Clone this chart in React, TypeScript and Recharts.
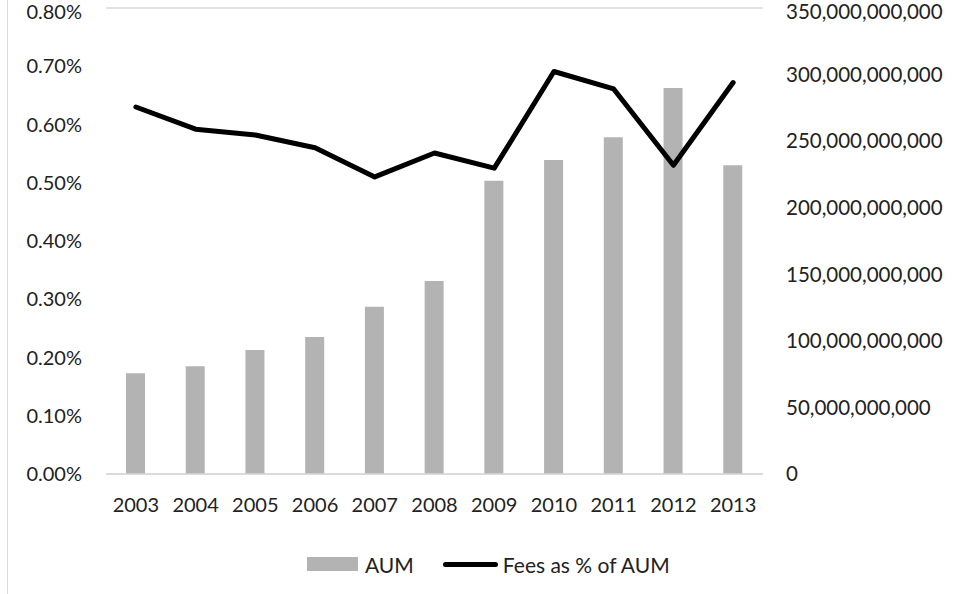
import {
    ComposedChart,
    Bar,
    Line,
    CartesianGrid,
    XAxis,
    YAxis,
    Legend
} from "recharts";

const years = ["2003", "2004", "2005", "2006", "2007", "2008", "2009", "2010", "2011", "2012", "2013"];
const aum = [75.6e9, 80.9e9, 93.1e9, 102.9e9, 125.7e9, 145.0e9, 220.3e9, 235.8e9, 252.9e9, 289.9e9, 231.9e9];
const feesPct = [0.630, 0.592, 0.582, 0.560, 0.510, 0.551, 0.525, 0.691, 0.661, 0.530, 0.672];
const leftTicks = [0, 0.1, 0.2, 0.3, 0.4, 0.5, 0.6, 0.7, 0.8];
const rightTicks = [0, 50e9, 100e9, 150e9, 200e9, 250e9, 300e9, 350e9];

const data = years.map((year, i) => ({ year, aum: aum[i], fees: feesPct[i] }));

const FONT = "Lato, 'Open Sans', sans-serif";
const TEXT = "#222";

function LegendContent() {
    return (
        <div
            style={{
                display: "flex",
                alignItems: "center",
                paddingLeft: 307,
                height: 60,
                fontFamily: FONT,
                fontSize: 21,
                color: TEXT
            }}
        >
            <span style={{ width: 51, height: 14, background: "#b3b3b3", display: "inline-block" }} />
            <span style={{ marginLeft: 7 }}>AUM</span>
            <span
                style={{
                    width: 55,
                    height: 5,
                    background: "#000",
                    borderRadius: 3,
                    display: "inline-block",
                    marginLeft: 29
                }}
            />
            <span style={{ marginLeft: 5 }}>Fees as % of AUM</span>
        </div>
    );
}

export default function App() {
    return (
        <div
            style={{
                position: "fixed",
                left: 0,
                top: 0,
                width: 955,
                height: 594,
                background: "#fff"
            }}
        >
            <div
                style={{
                    position: "absolute",
                    left: 7,
                    top: 0,
                    width: 0,
                    height: 594,
                    borderLeft: "1.5px solid #d9d9d9"
                }}
            />
            <ComposedChart
                width={955}
                height={594}
                data={data}
                margin={{ top: 8, right: 0, left: 0, bottom: 0 }}
                barCategoryGap={0}
            >
                <CartesianGrid vertical={false} stroke="#d9d9d9" strokeWidth={1.5} />
                <XAxis
                    dataKey="year"
                    height={60}
                    tickSize={0}
                    tickMargin={24}
                    axisLine={{ stroke: "#d9d9d9", strokeWidth: 1.5 }}
                    tick={{ fill: TEXT, fontSize: 20, fontFamily: FONT }}
                    interval={0}
                />
                <YAxis
                    yAxisId="left"
                    orientation="left"
                    width={106}
                    domain={[0, 0.8]}
                    ticks={leftTicks}
                    tickFormatter={(v: number) => `${v.toFixed(2)}%`}
                    tickSize={0}
                    tickMargin={24}
                    axisLine={false}
                    tick={{ fill: TEXT, fontSize: 20, fontFamily: FONT }}
                />
                <YAxis
                    yAxisId="right"
                    orientation="right"
                    width={192}
                    domain={[0, 350e9]}
                    ticks={rightTicks}
                    tickFormatter={(v: number) => v.toLocaleString("en-US")}
                    tickSize={0}
                    tickMargin={23}
                    axisLine={false}
                    tick={{ fill: TEXT, fontSize: 20.5, fontFamily: FONT }}
                />
                <Bar
                    yAxisId="right"
                    dataKey="aum"
                    name="AUM"
                    fill="#b3b3b3"
                    barSize={19}
                    isAnimationActive={false}
                />
                <Line
                    yAxisId="left"
                    dataKey="fees"
                    name="Fees as % of AUM"
                    type="linear"
                    stroke="#000"
                    strokeWidth={5}
                    strokeLinecap="round"
                    strokeLinejoin="round"
                    dot={false}
                    activeDot={false}
                    isAnimationActive={false}
                />
                <Legend
                    verticalAlign="bottom"
                    height={60}
                    content={<LegendContent />}
                    wrapperStyle={{ left: 0, width: 955, height: 60 }}
                />
            </ComposedChart>
        </div>
    );
}
